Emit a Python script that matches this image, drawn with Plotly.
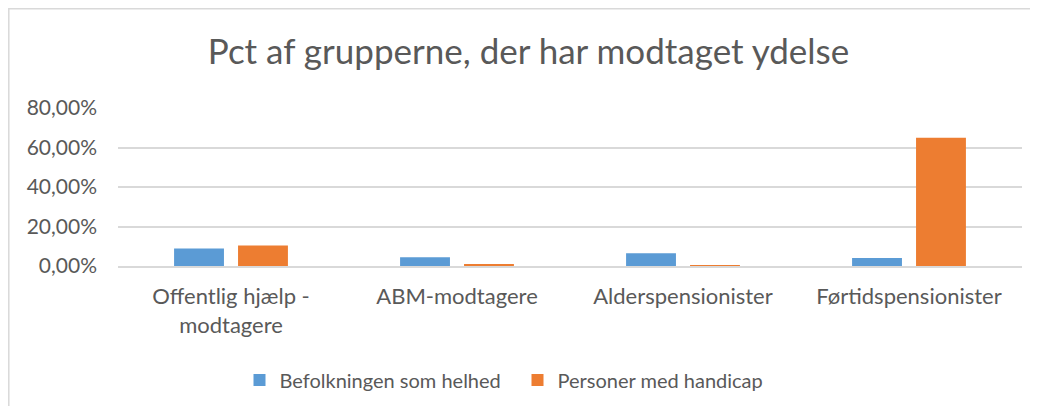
import plotly.graph_objects as go

categories = ["Offentlig hjælp -<br>modtagere", "ABM-modtagere", "Alderspensionister", "Førtidspensionister"]
befolkningen = [0.089, 0.044, 0.064, 0.040]
handicap = [0.104, 0.010, 0.001, 0.650]
series_names = ["Befolkningen som helhed", "Personer med handicap"]
tick_vals = [0, 0.2, 0.4, 0.6, 0.8]

# page body has an 8px margin; figure starts at (8, 8)
OFF = 8
W, H = 1022, 398
ml, mr, mt, mb = 110, 8, 100, 140
pw, ph = W - ml - mr, H - mt - mb

font = "Lato, 'Open Sans', sans-serif"
fig = go.Figure()
fig.add_trace(go.Bar(x=categories, y=befolkningen, name=series_names[0],
                     marker=dict(color="#5B9BD5", line=dict(width=0))))
fig.add_trace(go.Bar(x=categories, y=handicap, name=series_names[1],
                     marker=dict(color="#ED7D31", line=dict(width=0))))

def px_x(x):
    return (x - OFF - ml) / pw

def px_y(y):
    return (H - mb - (y - OFF)) / ph

fig.update_layout(
    width=W, height=H,
    margin=dict(l=ml, r=mr, t=mt, b=mb, autoexpand=False),
    paper_bgcolor="white", plot_bgcolor="white",
    separators=",.",
    barmode="group", bargap=0.434, bargroupgap=0.22,
    font=dict(family=font, size=21, color="#595959"),
    title=dict(text="Pct af grupperne, der har modtaget ydelse", x=(528.5 - OFF) / W, xanchor="center",
               xref="container",
               y=1 - (52 - OFF) / H, yanchor="middle", font=dict(size=35, color="#595959", family=font)),
    xaxis=dict(showgrid=False, showline=True, linecolor="#D9D9D9", linewidth=1.5,
               ticks="", ticklabelstandoff=10, tickfont=dict(size=22, color="#595959"), fixedrange=True),
    yaxis=dict(range=[0, 0.8], tickvals=tick_vals, tickformat=".2%", showgrid=True,
               gridcolor="#D9D9D9", gridwidth=1.5, zeroline=False, showline=False,
               ticks="", ticklabelstandoff=20, tickfont=dict(size=21, color="#595959")),
    legend=dict(orientation="h", x=(517.5 - OFF - ml) / pw, xanchor="center", y=px_y(380), yanchor="middle",
                font=dict(size=20, color="#595959"), itemwidth=30, entrywidth=233, entrywidthmode="pixels",
                traceorder="normal"),
    showlegend=True,
    shapes=[dict(type="rect", xref="paper", yref="paper",
                 x0=px_x(8.8), x1=px_x(1045), y0=px_y(430), y1=px_y(8.8),
                 line=dict(color="#D9D9D9", width=1.5), fillcolor="rgba(0,0,0,0)", layer="below")],
)
fig.write_html("out.html")
